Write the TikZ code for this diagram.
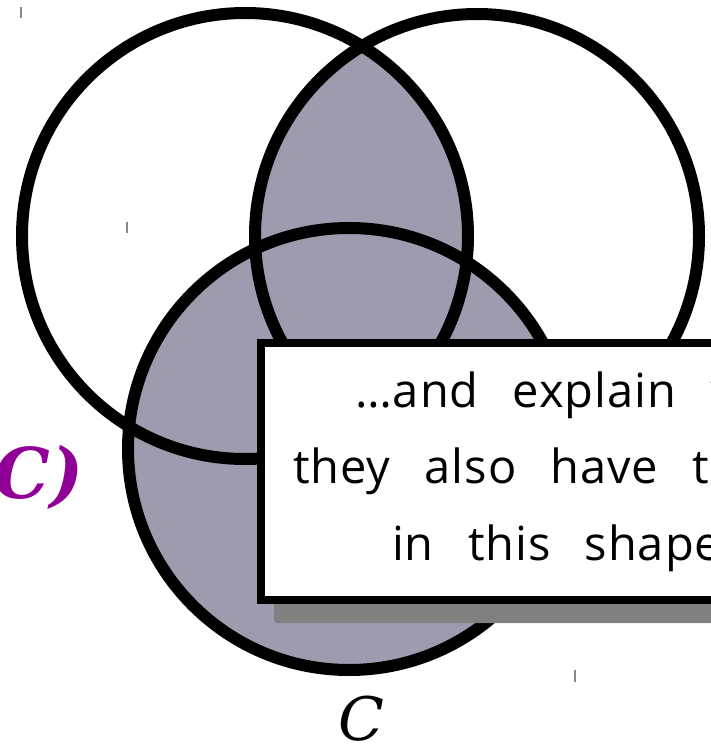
\documentclass[tikz,border=0pt]{standalone}
\usepackage{fontspec}
\newfontfamily\djserif{DejaVu Serif}
\newfontfamily\handfont[WordSpace=2.6, LetterSpace=2]{Open Sans}
\definecolor{vennfill}{RGB}{158,155,174}
\definecolor{labelpurple}{RGB}{144,0,150}
\definecolor{shadowgray}{RGB}{128,128,128}
\definecolor{tickgray}{RGB}{136,136,136}
\tikzset{
  ring/.style={draw=black, line width=12pt},
  tickmark/.style={draw=tickgray, line width=1.5pt},
  notebox/.style={draw=black, line width=8pt, fill=white, rectangle, anchor=north west, minimum width=483pt, minimum height=257pt, inner sep=0pt},
  notetext/.style={font=\handfont\fontsize{47}{47}\selectfont, anchor=base west, inner sep=0pt},
}
\begin{document}
\begin{tikzpicture}[x=1pt,y=-1pt]
\useasboundingbox (0,0) rectangle (711,746);
\clip (0,0) rectangle (711,746);
\fill[white] (0,0) rectangle (711,746);
% shading: C and A cap B
\fill[vennfill] (349,449) circle (221pt);
\begin{scope}
  \clip (245,236) circle (223pt);
  \fill[vennfill] (477,236) circle (222pt);
\end{scope}
% circles
\draw[ring] (245,236) circle (223pt);
\draw[ring] (477,236) circle (222pt);
\draw[ring] (349,449) circle (221pt);
% ticks
\draw[tickmark] (21,7) -- (21,18);
\draw[tickmark] (127,222) -- (127,233);
\draw[tickmark] (575,670) -- (575,682);
% labels
\node[font=\djserif\bfseries\itshape\fontsize{70}{70}\selectfont, text=labelpurple, anchor=base east, inner sep=0pt] (lblC) at (84,498) {C)};
\node[font=\djserif\itshape\fontsize{60}{60}\selectfont, anchor=base, inner sep=0pt] (lblCb) at (361,740) {C};
% note box with shadow
\fill[shadowgray, rounded corners=3pt] (274,360) rectangle (760,623);
\node[notebox] (box) at (257,339) {};
\node[notetext] (t1) at (355,407) {…and explain w};
\node[notetext] (t2) at (293,483) {they also have t};
\node[notetext] (t3) at (392,560) {in this shape};
\end{tikzpicture}
\end{document}
